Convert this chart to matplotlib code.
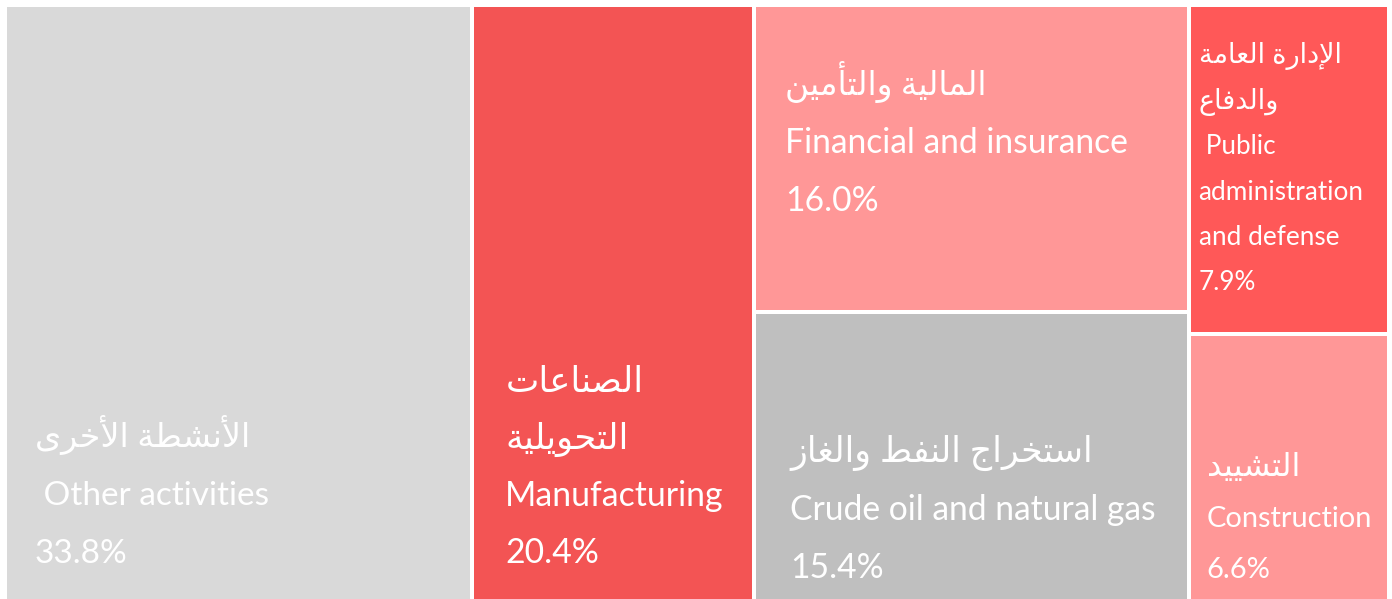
import matplotlib
matplotlib.use("Agg")
import matplotlib.pyplot as plt
from matplotlib.patches import Rectangle

# ---------------- data ----------------
values = [33.8, 20.4, 16.0, 15.4, 7.9, 6.6]
arabic_labels = ["الأنشطة الأخرى", "الصناعات\nالتحويلية", "المالية والتأمين",
                 "استخراج النفط والغاز", "الإدارة العامة\nوالدفاع", "التشييد"]
english_labels = [" Other activities", "Manufacturing", "Financial and insurance",
                  "Crude oil and natural gas", " Public\nadministration\nand defense",
                  "Construction"]
columns = [[0], [1], [2, 3], [4, 5]]   # treemap grouping (column -> items)

# ---------------- styles ----------------
colors = ["#D9D9D9", "#F35454", "#FF9797", "#BFBFBF", "#FF5858", "#FF9797"]
pad_x = [28, 31, 29, 34, 8, 16]
first_base = [440, 385, 88, 148, 56, 140]
line_gap = [58, 57, 58, 58, 45.5, 51]
font_sz = [24, 24.3, 24.2, 24.2, 18.8, 20.9]
arabic_sz = [24, 25.5, 23.5, 25, 19.5, 23]
FAMILY = ["Lato", "DejaVu Sans"]

# ---------------- simple Arabic shaping (presentation forms) ----------------
_FORMS = {
    'ء': (0xFE80, False), 'آ': (0xFE81, False), 'أ': (0xFE83, False), 'ؤ': (0xFE85, False),
    'إ': (0xFE87, False), 'ئ': (0xFE89, True), 'ا': (0xFE8D, False), 'ب': (0xFE8F, True),
    'ة': (0xFE93, False), 'ت': (0xFE95, True), 'ث': (0xFE99, True), 'ج': (0xFE9D, True),
    'ح': (0xFEA1, True), 'خ': (0xFEA5, True), 'د': (0xFEA9, False), 'ذ': (0xFEAB, False),
    'ر': (0xFEAD, False), 'ز': (0xFEAF, False), 'س': (0xFEB1, True), 'ش': (0xFEB5, True),
    'ص': (0xFEB9, True), 'ض': (0xFEBD, True), 'ط': (0xFEC1, True), 'ظ': (0xFEC5, True),
    'ع': (0xFEC9, True), 'غ': (0xFECD, True), 'ف': (0xFED1, True), 'ق': (0xFED5, True),
    'ك': (0xFED9, True), 'ل': (0xFEDD, True), 'م': (0xFEE1, True), 'ن': (0xFEE5, True),
    'ه': (0xFEE9, True), 'و': (0xFEED, False), 'ى': (0xFEEF, False), 'ي': (0xFEF1, True),
}
_LAM_ALEF = {'آ': 0xFEF5, 'أ': 0xFEF7, 'إ': 0xFEF9, 'ا': 0xFEFB}


def _shape_line(s):
    toks = []
    i = 0
    while i < len(s):
        c = s[i]
        if c == 'ل' and i + 1 < len(s) and s[i + 1] in _LAM_ALEF:
            toks.append(('LA', s[i + 1]))
            i += 2
        else:
            toks.append(('C', c))
            i += 1

    def can_prev(t):
        if t[0] == 'LA':
            return True
        return t[1] in _FORMS and t[1] != 'ء'

    def can_next(t):
        if t[0] == 'LA':
            return False
        return t[1] in _FORMS and _FORMS[t[1]][1]

    out = []
    n = len(toks)
    for k, t in enumerate(toks):
        pc = k > 0 and can_next(toks[k - 1]) and can_prev(t)
        nc = k < n - 1 and can_next(t) and can_prev(toks[k + 1])
        if t[0] == 'LA':
            out.append(chr(_LAM_ALEF[t[1]] + (1 if pc else 0)))
        elif t[1] in _FORMS:
            base, dual = _FORMS[t[1]]
            if dual:
                off = 3 if (pc and nc) else 1 if pc else 2 if nc else 0
            else:
                off = 1 if pc else 0
            out.append(chr(base + off))
        else:
            out.append(t[1])
    return "".join(out)[::-1]


def shape_arabic(s):
    return "\n".join(_shape_line(l) for l in s.split("\n"))


# ---------------- layout ----------------
W_PX, H_PX = 1392, 599
fig = plt.figure(figsize=(W_PX / 100, H_PX / 100), dpi=100)
fig.patch.set_facecolor("white")
ax = fig.add_axes([0, 0, 1, 1])
ax.set_xlim(0, W_PX)
ax.set_ylim(H_PX, 0)
ax.axis("off")

X0, X1, Y0, Y1 = 5, 1389, 5, 608
GAP = 2
total = sum(values)
x = X0
for col in columns:
    col_sum = sum(values[i] for i in col)
    w = (X1 - X0) * col_sum / total
    y = Y0
    for i in col:
        h = (Y1 - Y0) * values[i] / col_sum
        rx, ry, rw, rh = x + GAP, y + GAP, w - 2 * GAP, h - 2 * GAP
        ax.add_patch(Rectangle((rx, ry), rw, rh, facecolor=colors[i],
                               edgecolor="none"))
        ar_lines = shape_arabic(arabic_labels[i]).split("\n")
        other_lines = english_labels[i].split("\n") + [f"{values[i]:.1f}%"]
        lines = [(t, arabic_sz[i]) for t in ar_lines] + \
                [(t, font_sz[i]) for t in other_lines]
        for j, (ln, fs) in enumerate(lines):
            ax.text(rx + pad_x[i], ry + first_base[i] + j * line_gap[i], ln,
                    ha="left", va="baseline", color="white",
                    fontsize=fs, family=FAMILY)
        y += h
    x += w

fig.savefig("out.png", dpi=100, facecolor="white")
